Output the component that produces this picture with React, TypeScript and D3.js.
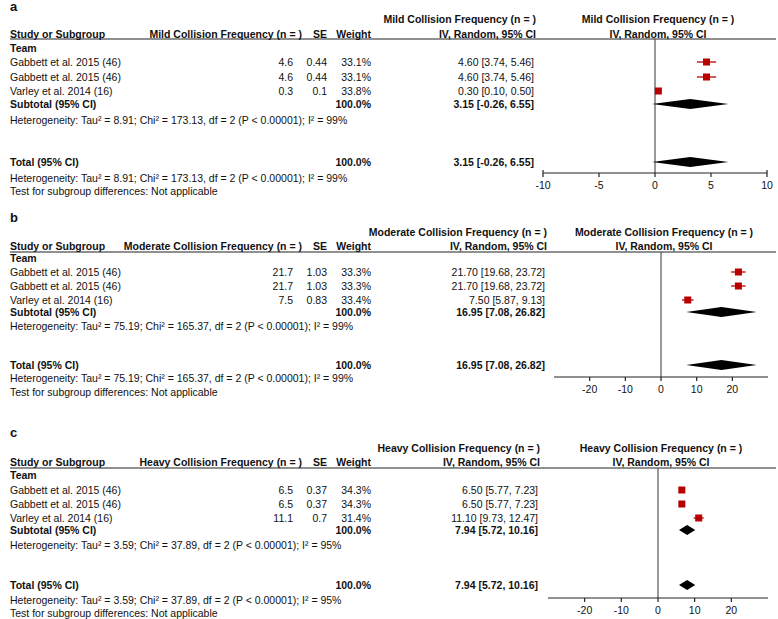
import React from 'react';
import * as d3 from 'd3';

// ---------- data ----------
const panelLetters = ['a', 'b', 'c'];
const outcomeNames = [
  'Mild Collision Frequency (n = )',
  'Moderate Collision Frequency (n = )',
  'Heavy Collision Frequency (n = )',
];
const studyNames = ['Gabbett et al. 2015 (46)', 'Gabbett et al. 2015 (46)', 'Varley et al. 2014 (16)'];

const mildMean = [4.6, 4.6, 0.3];
const mildSE = [0.44, 0.44, 0.1];
const mildWeight = [33.1, 33.1, 33.8];
const mildLow = [3.74, 3.74, 0.1];
const mildHigh = [5.46, 5.46, 0.5];
const mildPooled = [3.15, -0.26, 6.55];

const moderateMean = [21.7, 21.7, 7.5];
const moderateSE = [1.03, 1.03, 0.83];
const moderateWeight = [33.3, 33.3, 33.4];
const moderateLow = [19.68, 19.68, 5.87];
const moderateHigh = [23.72, 23.72, 9.13];
const moderatePooled = [16.95, 7.08, 26.82];

const heavyMean = [6.5, 6.5, 11.1];
const heavySE = [0.37, 0.37, 0.7];
const heavyWeight = [34.3, 34.3, 31.4];
const heavyLow = [5.77, 5.77, 9.73];
const heavyHigh = [7.23, 7.23, 12.47];
const heavyPooled = [7.94, 5.72, 10.16];

const tau2Values = ['8.91', '75.19', '3.59'];
const chi2Values = ['173.13', '165.37', '37.89'];
const dfValues = [2, 2, 2];
const i2Values = [99, 99, 95];

const axisDomains = [[-10, 10], [-30, 30], [-30, 30]];
const axisTicks = [[-10, -5, 0, 5, 10], [-20, -10, 0, 10, 20], [-20, -10, 0, 10, 20]];

const means = [mildMean, moderateMean, heavyMean];
const ses = [mildSE, moderateSE, heavySE];
const weights = [mildWeight, moderateWeight, heavyWeight];
const lows = [mildLow, moderateLow, heavyLow];
const highs = [mildHigh, moderateHigh, heavyHigh];
const pooled = [mildPooled, moderatePooled, heavyPooled];

// ---------- layout ----------
const W = 778;
const H = 619;
const FONT = "'Liberation Sans', Arial, Helvetica, sans-serif";
const FS = 10.5;
const RED = '#b80000';
const panelTop = [0, 211, 426];
// letter, head1, head2, hline, team, r1, r2, r3, sub, het, total, het2, test, axis
const rowOffsets = [
  [6, 19, 34, 39, 48, 62, 77, 91, 104, 120, 162, 178, 191, 173],
  [6, 21, 35, 41, 47, 61, 75, 89, 101, 115, 154, 167, 181, 166],
  [6, 22, 36, 42, 49, 64, 78, 92, 104, 119, 159, 174, 187, 172],
];
const forestRange = [[543, 767], [554, 768], [548, 768]];
const ciRight = [534, 545, 538];

const fmt2 = (v: number) => v.toFixed(2);
const ciText = (m: number, l: number, h: number) => `${fmt2(m)} [${fmt2(l)}, ${fmt2(h)}]`;

function T(props: any) {
  const { x, y, children, anchor = 'start', bold = false, size = FS } = props;
  return (
    <text x={x} y={y + size * 0.37} textAnchor={anchor} fontWeight={bold ? 'bold' : 'normal'}
      fontSize={size} fontFamily={FONT} fill="#111">
      {children}
    </text>
  );
}

function Panel({ p }: { p: number }) {
  const top = panelTop[p];
  const o = rowOffsets[p].map((v) => v + top);
  const [yLetter, yH1, yH2, yLine, yTeam, r1, r2, r3, ySub, yHet, yTot, yHet2, yTest, yAxis] = o;
  const rows = [r1, r2, r3];
  const x = d3.scaleLinear().domain(axisDomains[p]).range(forestRange[p]);
  const cr = ciRight[p];
  const fCenter = x(0) + 3;
  const het = `Heterogeneity: Tau\u00b2 = ${tau2Values[p]}; Chi\u00b2 = ${chi2Values[p]}, df = ${dfValues[p]} (P < 0.00001); I\u00b2 = ${i2Values[p]}%`;
  const [pe, pl, ph] = pooled[p];
  const diamond = (yc: number) =>
    `M${x(pl)},${yc} L${x(pe)},${yc - 5} L${x(ph)},${yc} L${x(pe)},${yc + 5} Z`;

  return (
    <g>
      <T x={10} y={yLetter} bold size={13}>{panelLetters[p]}</T>
      {/* headers */}
      <T x={cr + 2} y={yH1} anchor="end" bold>{outcomeNames[p]}</T>
      <T x={fCenter} y={yH1} anchor="middle" bold>{outcomeNames[p]}</T>
      <T x={10} y={yH2} bold>Study or Subgroup</T>
      <T x={302} y={yH2} anchor="end" bold>{outcomeNames[p]}</T>
      <T x={327} y={yH2} anchor="end" bold>SE</T>
      <T x={371} y={yH2} anchor="end" bold>Weight</T>
      <T x={cr + 2} y={yH2} anchor="end" bold>IV, Random, 95% CI</T>
      <T x={fCenter} y={yH2} anchor="middle" bold>IV, Random, 95% CI</T>
      <line x1={10} x2={776} y1={yLine} y2={yLine} stroke="#222" strokeWidth={1.2} />
      <T x={10} y={yTeam} bold>Team</T>
      {/* study rows */}
      {studyNames.map((s, i) => (
        <g key={i}>
          <T x={10} y={rows[i]}>{s}</T>
          <T x={293} y={rows[i]} anchor="end">{String(means[p][i])}</T>
          <T x={327} y={rows[i]} anchor="end">{String(ses[p][i])}</T>
          <T x={371} y={rows[i]} anchor="end">{`${weights[p][i].toFixed(1)}%`}</T>
          <T x={cr} y={rows[i]} anchor="end">{ciText(means[p][i], lows[p][i], highs[p][i])}</T>
        </g>
      ))}
      <T x={10} y={ySub} bold>Subtotal (95% CI)</T>
      <T x={371} y={ySub} anchor="end" bold>100.0%</T>
      <T x={cr} y={ySub} anchor="end" bold>{ciText(pe, pl, ph)}</T>
      <T x={10} y={yHet}>{het}</T>
      <T x={10} y={yTot} bold>Total (95% CI)</T>
      <T x={371} y={yTot} anchor="end" bold>100.0%</T>
      <T x={cr} y={yTot} anchor="end" bold>{ciText(pe, pl, ph)}</T>
      <T x={10} y={yHet2}>{het}</T>
      <T x={10} y={yTest}>Test for subgroup differences: Not applicable</T>
      {/* forest */}
      <line x1={x(0)} x2={x(0)} y1={yLine} y2={yAxis} stroke="#555" strokeWidth={1.2} />
      {studyNames.map((s, i) => {
        const sz = 7;
        return (
          <g key={'f' + i}>
            <line x1={x(lows[p][i])} x2={x(highs[p][i])} y1={rows[i]} y2={rows[i]} stroke={RED} strokeWidth={1.3} />
            <rect x={x(means[p][i]) - sz / 2} y={rows[i] - sz / 2} width={sz} height={sz} fill={RED} />
          </g>
        );
      })}
      <path d={diamond(ySub)} fill="#000" />
      <path d={diamond(yTot)} fill="#000" />
      {/* axis */}
      <line x1={forestRange[p][0]} x2={forestRange[p][1]} y1={yAxis} y2={yAxis} stroke="#222" strokeWidth={1.2} />
      {axisTicks[p].map((t) => (
        <g key={'t' + t}>
          <line x1={x(t)} x2={x(t)} y1={yAxis - (p === 0 && Math.abs(t) === 10 ? 3 : 0)} y2={yAxis + 4} stroke="#222" strokeWidth={1.2} />
          <T x={x(t)} y={yAxis + 12} anchor="middle">{String(t)}</T>
        </g>
      ))}
    </g>
  );
}

export default function App() {
  return (
    <svg width={W} height={H} style={{ position: 'absolute', left: 0, top: 0, background: '#fff' }}>
      <rect width={W} height={H} fill="#fff" />
      {[0, 1, 2].map((p) => (
        <Panel key={p} p={p} />
      ))}
    </svg>
  );
}
